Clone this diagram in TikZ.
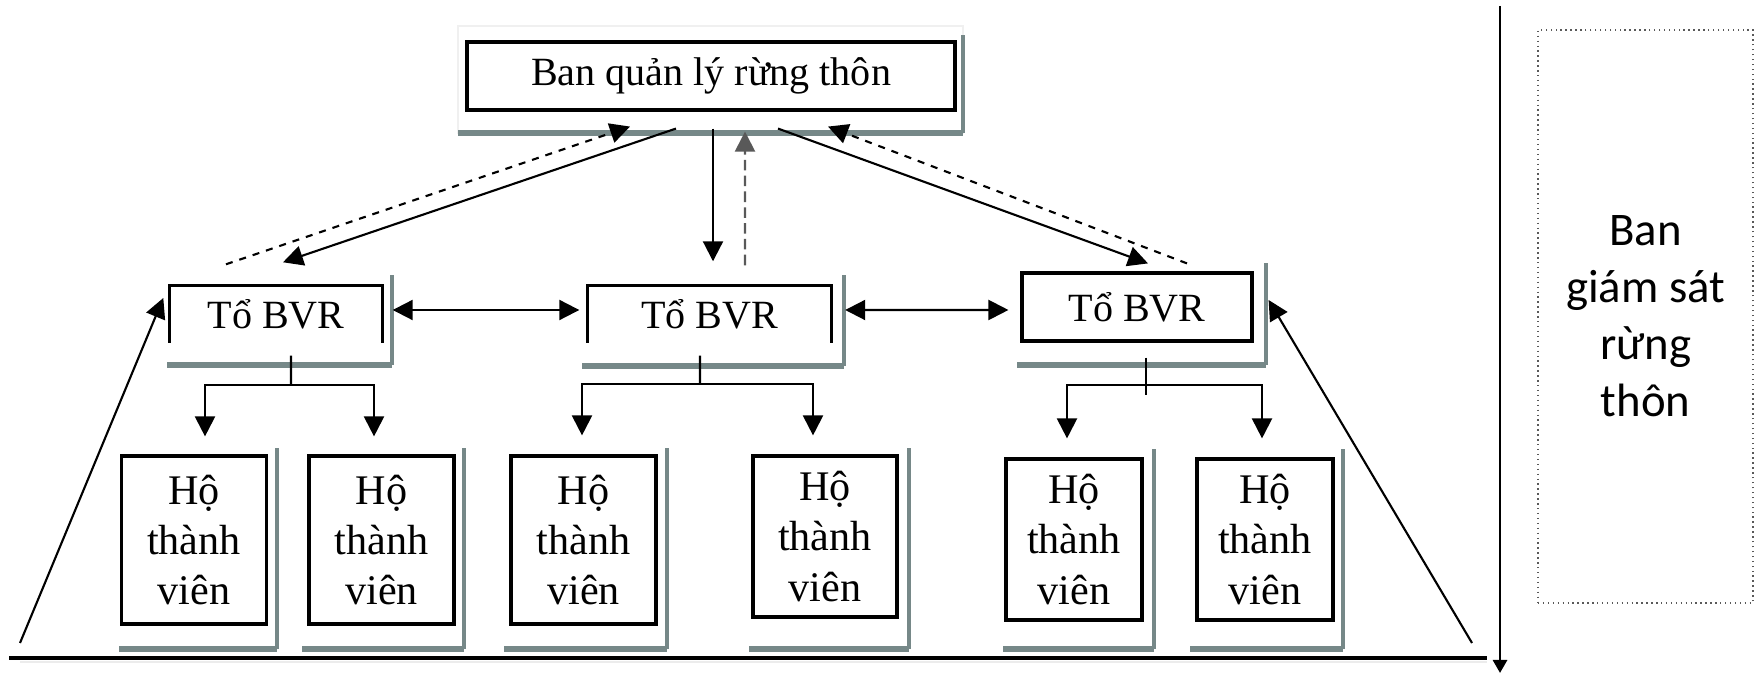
\documentclass[tikz,border=0pt]{standalone}
\usepackage{fontspec}
\setmainfont{Liberation Serif}
\newfontfamily\calibri{Carlito}
\usetikzlibrary{arrows.meta,positioning}
\definecolor{bong}{RGB}{118,136,136}

\begin{document}
\begin{tikzpicture}[x=0.1mm, y=-0.1mm,
    >={Triangle[length=2mm,width=2mm]},
    font=\fontsize{11.4pt}{13.9pt}\selectfont,
    ban/.style={rectangle, draw, line width=0.9pt, minimum width=4.88cm, minimum height=0.68cm, inner sep=0pt},
    tobvr/.style={rectangle, minimum width=2.12cm, minimum height=0.56cm, inner sep=0pt},
    ho/.style={rectangle, draw, line width=0.9pt, align=center, inner sep=0pt, minimum width=1.45cm, minimum height=1.68cm, font=\fontsize{12pt}{14.3pt}\selectfont},
    giamsat/.style={rectangle, draw=gray!70!black, densely dotted, line width=0.4pt, align=center, minimum width=2.15cm, minimum height=5.73cm, font=\calibri\fontsize{13.3pt}{16.2pt}\selectfont},
    khung/.style={draw=bong, line width=0.9pt},
    khungday/.style={draw=bong, line width=1.8pt},
    conn/.style={line width=0.6pt, ->},
    ve/.style={line width=0.6pt, dash pattern=on 2pt off 2pt, ->}
    ]

\useasboundingbox (0,0) rectangle (1760,673);

% bong cua cac khung
\draw[gray!12, line width=0.8pt] (458,26) rectangle (963,133);
\foreach \a/\b/\c/\d in {458/133/963/35, 167/365/392/275, 582/366/844/275, 1017/365/1266/263,
    119/649/277/448, 302/649/464/448, 504/649/667/448, 749/649/909/448, 1003/649/1154/449, 1190/649/1343/449}{
  \draw[khungday] (\a,\b) -- (\c,\b);
  \draw[khung] (\c,\b) -- (\c,\d);
}

% cac nut
\node[ban] (ban-ql) at (711,76) {Ban quản lý rừng thôn};

\node[tobvr] (to-1) at (276,314) {Tổ BVR};
\draw[line width=0.9pt] (to-1.south west) |- (to-1.north east) -- (to-1.south east);
\node[tobvr, minimum width=2.43cm] (to-2) at (709.5,314) {Tổ BVR};
\draw[line width=0.9pt] (to-2.south west) |- (to-2.north east) -- (to-2.south east);
\node[tobvr, draw, line width=0.9pt, minimum width=2.3cm, minimum height=0.68cm] (to-3) at (1137,307) {Tổ BVR};

\node[ho] (ho-11) at (194,540) {Hộ\\thành\\viên};
\node[ho] (ho-12) at (381.5,540) {Hộ\\thành\\viên};
\node[ho] (ho-21) at (583.5,540) {Hộ\\thành\\viên};
\node[ho, minimum width=1.44cm, minimum height=1.61cm] (ho-22) at (825,536.5) {Hộ\\thành\\viên};
\node[ho, minimum width=1.36cm, minimum height=1.61cm] (ho-31) at (1074,539.5) {Hộ\\thành\\viên};
\node[ho, minimum width=1.36cm, minimum height=1.61cm] (ho-32) at (1265,539.5) {Hộ\\thành\\viên};

\node[giamsat] (giam-sat) at (1645.5,316.5) {Ban\\giám sát\\rừng\\thôn};

% ban quan ly <-> to BVR
\draw[conn] ([xshift=-3.5mm,yshift=-1.7mm]ban-ql.south) -- ([xshift=0.7mm,yshift=2.3mm]to-1.north);
\draw[ve] ([xshift=-5mm,yshift=2.1mm]to-1.north) -- ([xshift=-8.1mm,yshift=-1.5mm]ban-ql.south);
\draw[conn] ([xshift=0.2mm,yshift=-1.7mm]ban-ql.south) -- ([xshift=0.35mm,yshift=2.4mm]to-2.north);
\draw[->, line width=0.6pt, gray!70!black, dash pattern=on 3pt off 1.5pt] ([xshift=3.55mm,yshift=2mm]to-2.north) -- ([xshift=3.4mm,yshift=-2mm]ban-ql.south);
\draw[conn] ([xshift=6.7mm,yshift=-1.7mm]ban-ql.south) -- ([xshift=1.1mm,yshift=0.8mm]to-3.north);
\draw[ve] ([xshift=5mm,yshift=0.8mm]to-3.north) -- ([xshift=11.7mm,yshift=-1.5mm]ban-ql.south);

% giua cac to
\draw[<->, line width=0.6pt] ([xshift=1mm,yshift=0.4mm]to-1.east) -- ([xshift=-0.8mm,yshift=0.4mm]to-2.west);
\draw[<->, line width=0.6pt] ([xshift=1.35mm,yshift=0.4mm]to-2.east) -- ([xshift=-1.2mm,yshift=-0.3mm]to-3.west);

% to -> ho thanh vien
\coordinate (nhanh-1) at (291,385);
\coordinate (nhanh-2) at (700,384);
\coordinate (nhanh-3) at (1146,385);
\draw[line width=0.6pt] ([xshift=1.5mm,yshift=-1.3mm]to-1.south) -- (nhanh-1);
\draw[conn] (nhanh-1) -| ([xshift=1.1mm,yshift=1.8mm]ho-11.north);
\draw[conn] (nhanh-1) -| ([xshift=-0.75mm,yshift=1.8mm]ho-12.north);
\draw[line width=0.6pt] ([xshift=-0.95mm,yshift=-1.3mm]to-2.south) -- (nhanh-2);
\draw[conn] (nhanh-2) -| ([xshift=-0.15mm,yshift=1.9mm]ho-21.north);
\draw[conn] (nhanh-2) -| ([xshift=-1.2mm,yshift=1.9mm]ho-22.north);
\draw[line width=0.6pt] ([xshift=0.9mm,yshift=-1.5mm]to-3.south) -- ++(0,37);
\draw[conn] (nhanh-3) -| ([xshift=-0.7mm,yshift=1.9mm]ho-31.north);
\draw[conn] (nhanh-3) -| ([xshift=-0.3mm,yshift=1.9mm]ho-32.north);

% hai canh ben
\coordinate (day-trai) at (20,643);
\coordinate (day-phai) at (1472,643);
\draw[conn] (day-trai) -- ([xshift=-0.6mm,yshift=1.6mm]to-1.west);
\draw[conn] (day-phai) -- ([xshift=1.5mm,yshift=0.7mm]to-3.east);

% duong day va mui ten doc
\draw[gray!15, line width=0.8pt] (20,662) -- (1487,662);
\draw[line width=1pt] (9,658) -- (1487,658);
\draw[-{Triangle[length=1.3mm,width=1.4mm]}, line width=0.8pt] (1500,6) -- (1500,673);

\end{tikzpicture}
\end{document}
